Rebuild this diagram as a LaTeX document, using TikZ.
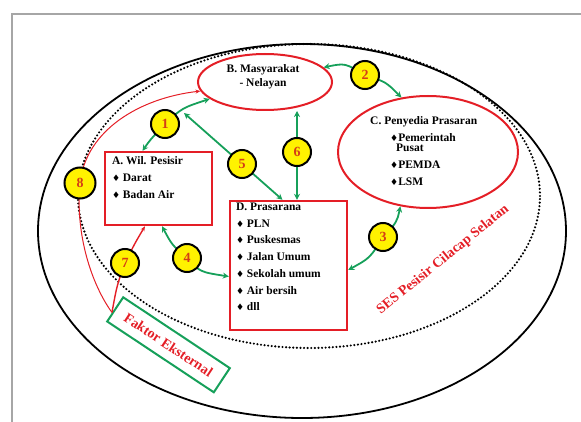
\documentclass[tikz,border=0pt]{standalone}
\usepackage{fontspec}
\setmainfont{Liberation Serif}
\newfontfamily\simboli{DejaVu Sans}
\usetikzlibrary{shapes.geometric,arrows.meta,calc}

\definecolor{rossoLinea}{RGB}{228,30,38}
\definecolor{verdeLinea}{RGB}{22,160,90}
\definecolor{gialloNum}{RGB}{255,242,0}
\definecolor{rossoNum}{RGB}{212,62,22}

\newcommand{\pallino}{{\simboli\fontsize{9}{9}\selectfont ♦}}

\tikzset{
  testo/.style={font=\bfseries\fontsize{11.5}{17}\selectfont, align=left, inner sep=0pt},
  scatola/.style={draw=rossoLinea, line width=2.4pt, minimum width=#1},
  ellisse/.style={ellipse, draw=rossoLinea, line width=2pt},
  numero/.style={circle, draw=black, line width=2pt, fill=gialloNum, minimum size=28pt, inner sep=0pt,
    text=rossoNum, font=\bfseries\fontsize{14}{14}\selectfont},
  legame/.style={draw=verdeLinea, line width=1.8pt, {Stealth[length=6pt,width=6pt]}-{Stealth[length=6pt,width=6pt]}},
  esterno/.style={draw=rossoLinea, -{Stealth[length=5pt,width=4pt]}}
}

\begin{document}
\begin{tikzpicture}[x=1pt,y=1pt]
    \useasboundingbox (0,0) rectangle (581,-422);
    % cornice
    \draw[gray!70, line width=1.2pt] (12,-422) -- (12,-14) -- (581,-14);

    % ellissi esterne
    \draw[line width=1.8pt] (302,-231) ellipse [x radius=264, y radius=187];
    \draw[line width=2.4pt, line cap=round, dash pattern=on 0pt off 3.6pt] (309,-196) ellipse [x radius=231, y radius=152];
    \node[rotate=39, text=rossoLinea, font=\bfseries\fontsize{14}{14}\selectfont] (ses) at (443,-260) {SES Pesisir Cilacap Selatan};

    % attori
    \node[ellisse, minimum width=134pt, minimum height=56pt] (masy) at (265,-82) {};
    \node[testo, align=center, font=\bfseries\fontsize{11.5}{14}\selectfont] (masytxt) at (263,-77) {B. Masyarakat\\ - Nelayan};

    \node[ellisse, minimum width=180pt, minimum height=112pt] (peny) at (428,-152) {};
    \node[testo, anchor=north west] (penytxt) at (370,-116) {C. Penyedia Prasaran\\
      \hspace*{20pt}\pallino Pemerintah\\[-6.5pt]
      \hspace*{26pt}Pusat\\
      \hspace*{20pt}\pallino PEMDA\\
      \hspace*{20pt}\pallino LSM};

    \node[scatola=107pt, minimum height=73pt] (wil) at (158.5,-188.5) {};
    \node[testo, anchor=north west] (wiltxt) at ([xshift=8pt,yshift=-6pt]wil.north west) {A. Wil. Pesisir\\
      \pallino\ Darat\\ \pallino\ Badan Air};

    \node[scatola=117pt, minimum height=129pt] (pras) at (288.5,-265.5) {};
    \node[testo, anchor=north west, font=\bfseries\fontsize{11.5}{16.7}\selectfont] (prastxt) at ([xshift=7pt,yshift=-3pt]pras.north west) {D. Prasarana\\
      \pallino\ PLN\\ \pallino\ Puskesmas\\ \pallino\ Jalan Umum\\
      \pallino\ Sekolah umum\\ \pallino\ Air bersih\\ \pallino\ dll};

    \node[draw=verdeLinea, line width=2pt, rotate=-33.6, minimum width=128pt, minimum height=29pt, inner sep=0pt,
      text=rossoLinea, font=\bfseries\fontsize{14}{14}\selectfont] (faktor) at (168.5,-344.8) {Faktor Eksternal};
    \coordinate (fk) at ($(faktor.south west)!0.36!(faktor.north west)$);

    % posizione dei numeri
    \coordinate (p1) at (165,-124);
    \coordinate (p2) at (365,-75);
    \coordinate (p3) at (383,-237);
    \coordinate (p4) at (187,-258);
    \coordinate (p5) at (242,-164);
    \coordinate (p6) at (297,-152);
    \coordinate (p7) at (125,-263);
    \coordinate (p8) at (80,-183);
    \coordinate (b5) at (184,-113);

    % legami
    \draw[legame] ([xshift=-16pt]wil.north) .. controls (150,-140) .. (p1) .. controls (182,-108) .. (masy.197);
    \draw[legame] (masy.14) .. controls (345,-63) .. (p2) .. controls (386,-82) .. (peny.116);
    \draw[legame] (peny.243) .. controls (397,-222) .. (p3) .. controls (370,-258) .. ([yshift=-4.5pt]pras.east);
    \draw[legame] ([xshift=3.5pt]wil.south) .. controls (172,-245) .. (p4) .. controls (200,-272) .. ([yshift=-11pt]pras.west);
    \draw[legame] (b5) -- ([xshift=-6pt]pras.north);
    \draw[legame] (p6 |- masy.south) -- (p6 |- pras.north);

    % fattori esterni
    \draw[esterno, line width=1.4pt] (fk) .. controls (117,-285) .. (p7) .. controls (135,-243) .. ([xshift=-13.5pt]wil.south);
    \draw[esterno, line width=1pt] (fk) .. controls (92,-285) and (75,-235) .. (p8) .. controls (86,-130) and (140,-98) .. (masy.188);

    % numeri
    \foreach \i in {1,...,7} {
      \node[numero] (n\i) at (p\i) {\i};
    }
    \node[numero, minimum size=31pt] (n8) at (p8) {8};
\end{tikzpicture}
\end{document}
